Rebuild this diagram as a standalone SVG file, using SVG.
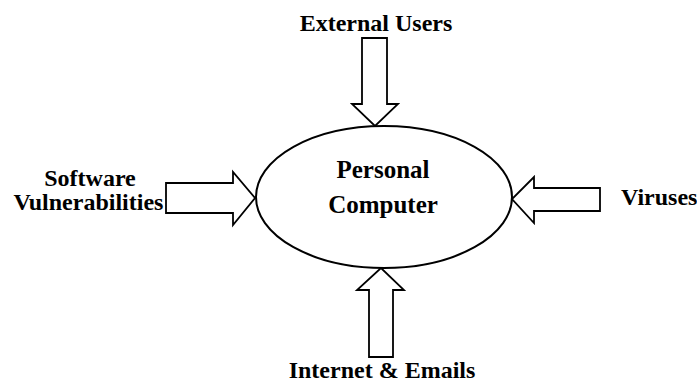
<svg xmlns="http://www.w3.org/2000/svg" width="697" height="382" viewBox="0 0 697 382">
<style>
.lbl{font-size:24px}
.ctr{font-size:25px}
.arr{fill:#fff;stroke:#000;stroke-width:1.8;stroke-linejoin:miter}
.ell{fill:#fff;stroke:#000;stroke-width:2}
</style>
<rect width="697" height="382" fill="#fff"/>
<g id="connectors">
<polygon class="arr" points="362,38 387,38 387,104 398,104 375,126 352,104 362,104"/>
<polygon class="arr" points="369,357 393,357 393,290 404,290 381,268 357,290 369,290"/>
<polygon class="arr" points="166,183 233,183 233,172 255,198 233,225 233,213 166,213"/>
<polygon class="arr" points="600,188 534,188 534,177 512,199 534,223 534,211 600,211"/>
</g>
<g font-family="Liberation Serif, Tinos, Times New Roman, DejaVu Serif, serif" font-weight="bold" fill="#000">
<g id="personal-computer">
<ellipse class="ell" cx="384" cy="197" rx="128" ry="71"/>
<text class="ctr" x="383" y="178" text-anchor="middle">Personal</text>
<text class="ctr" x="383" y="213" text-anchor="middle">Computer</text>
</g>
<g id="external-users">
<text class="lbl" x="376" y="31" text-anchor="middle">External Users</text>
</g>
<g id="internet-emails">
<text class="lbl" x="382" y="378" text-anchor="middle">Internet &amp; Emails</text>
</g>
<g id="software-vulnerabilities">
<text class="lbl" x="90" y="186" text-anchor="middle">Software</text>
<text class="lbl" x="88.5" y="209.5" text-anchor="middle">Vulnerabilities</text>
</g>
<g id="viruses">
<text class="lbl" x="621" y="205">Viruses</text>
</g>
</g>
</svg>
